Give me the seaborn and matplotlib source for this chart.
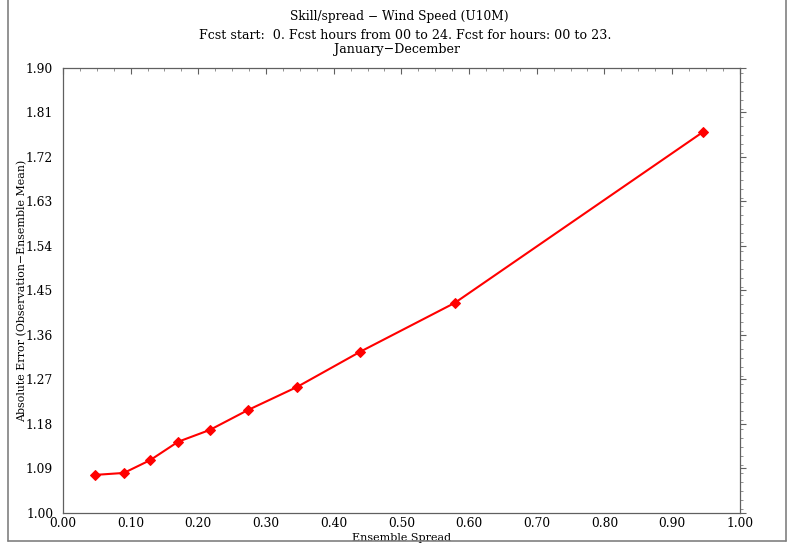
import numpy as np
import pandas as pd
import matplotlib
matplotlib.use("Agg")
import matplotlib.pyplot as plt
import seaborn as sns
from matplotlib.lines import Line2D
from matplotlib.ticker import MultipleLocator, FormatStrFormatter

# data
spread = [0.047, 0.090, 0.129, 0.170, 0.217, 0.273, 0.346, 0.439, 0.579, 0.945]
abs_error = [1.077, 1.081, 1.107, 1.144, 1.168, 1.208, 1.255, 1.326, 1.425, 1.770]
x_ticks = [0.0, 0.1, 0.2, 0.3, 0.4, 0.5, 0.6, 0.7, 0.8, 0.9, 1.0]
y_ticks = [1.00, 1.09, 1.18, 1.27, 1.36, 1.45, 1.54, 1.63, 1.72, 1.81, 1.90]

df = pd.DataFrame({"spread": spread, "error": abs_error})

sns.set_theme(style="white")
plt.rcParams['font.family'] = ['DejaVu Serif']
plt.rcParams['text.color'] = 'black'

fig = plt.figure(figsize=(7.87, 5.44), dpi=100)
ax = fig.add_axes([0.080, 0.057, 0.860, 0.818])

sns.lineplot(data=df, x="spread", y="error", ax=ax, color="red", linewidth=1.5,
             marker="D", markersize=5, markeredgecolor="red", sort=False)

ax.set_xlim(0, 1.0)
ax.set_ylim(1.0, 1.9)
ax.set_xticks(x_ticks)
ax.set_yticks(y_ticks)
ax.xaxis.set_major_formatter(FormatStrFormatter("%.2f"))
ax.yaxis.set_major_formatter(FormatStrFormatter("%.2f"))
ax.xaxis.set_minor_locator(MultipleLocator(0.025))
ax.yaxis.set_minor_locator(MultipleLocator(0.018))

for s in ax.spines.values():
    s.set_color("#606060")
    s.set_linewidth(0.9)

ax.tick_params(axis="both", which="major", labelsize=8.8, labelcolor="black",
               color="#606060", length=4, width=0.8, pad=3, top=True, right=True)
ax.tick_params(axis="both", which="minor", color="#808080",
               length=2.5, width=0.6, top=True, right=True)
ax.tick_params(axis="x", which="both", direction="in")
ax.tick_params(axis="y", which="both", direction="out")

ax.set_xlabel("Ensemble Spread", fontsize=8, color="black")
ax.set_ylabel("Absolute Error (Observation\u2212Ensemble Mean)", fontsize=7.9, color="black")
ax.xaxis.set_label_coords(0.5, -0.046)
ax.yaxis.set_label_coords(-0.053, 0.5)

fig.text(0.508, 0.970, "Skill/spread \u2212 Wind Speed (U10M)", ha="center", va="center", fontsize=8.8)
fig.text(0.515, 0.934, "Fcst start:  0. Fcst hours from 00 to 24. Fcst for hours: 00 to 23.",
         ha="center", va="center", fontsize=9.1)
fig.text(0.505, 0.909, "January\u2212December", ha="center", va="center", fontsize=9.1)

# page border (left, bottom, right)
border = dict(color="#808080", linewidth=1.2, transform=fig.transFigure)
fig.add_artist(Line2D([8 / 787, 8 / 787], [3 / 544, 1.0], **border))
fig.add_artist(Line2D([8 / 787, 786 / 787], [3 / 544, 3 / 544], **border))
fig.add_artist(Line2D([786 / 787, 786 / 787], [3 / 544, 1.0], **border))

fig.savefig("out.png", dpi=100)
